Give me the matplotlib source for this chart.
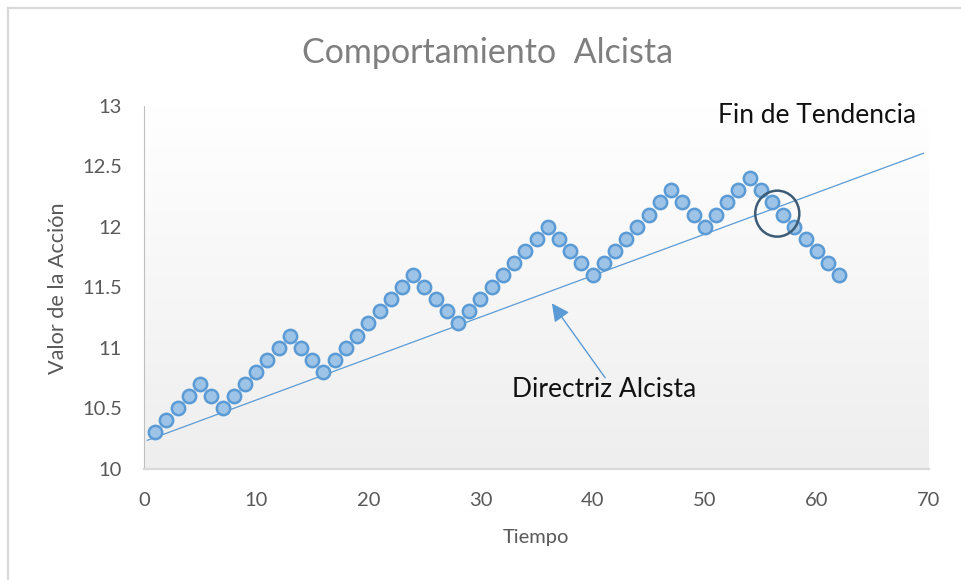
import numpy as np
import matplotlib
matplotlib.use("Agg")
import matplotlib.pyplot as plt
from matplotlib.colors import LinearSegmentedColormap
from matplotlib.patches import Ellipse
from matplotlib.lines import Line2D

plt.rcParams['font.family'] = ['Lato', 'DejaVu Sans']

# Series: share price over time
tiempo = list(range(1, 63))
valor = [10.3, 10.4, 10.5, 10.6, 10.7, 10.6, 10.5, 10.6, 10.7, 10.8,
         10.9, 11.0, 11.1, 11.0, 10.9, 10.8, 10.9, 11.0, 11.1, 11.2,
         11.3, 11.4, 11.5, 11.6, 11.5, 11.4, 11.3, 11.2, 11.3, 11.4,
         11.5, 11.6, 11.7, 11.8, 11.9, 12.0, 11.9, 11.8, 11.7, 11.6,
         11.7, 11.8, 11.9, 12.0, 12.1, 12.2, 12.3, 12.2, 12.1, 12.0,
         12.1, 12.2, 12.3, 12.4, 12.3, 12.2, 12.1, 12.0, 11.9, 11.8,
         11.7, 11.6]

# Uptrend support line end points
directriz_x = [0.3, 69.5]
directriz_y = [10.234, 12.606]

x_ticks = [0, 10, 20, 30, 40, 50, 60, 70]
y_ticks = [10, 10.5, 11, 11.5, 12, 12.5, 13]
y_tick_labels = ['10', '10.5', '11', '11.5', '12', '12.5', '13']

W, H = 961, 580
fig = plt.figure(figsize=(W / 100, H / 100), dpi=100)
fig.patch.set_facecolor('white')

ax = fig.add_axes([144 / W, 1 - 468.6 / H, 785 / W, 363 / H])

# Plot area gradient fill
grad = np.linspace(0, 1, 256)[:, None]
cmap = LinearSegmentedColormap.from_list('bg', ['#ffffff', '#eeeeee'])
ax.imshow(grad, extent=[0, 70, 10, 13], aspect='auto', cmap=cmap,
          origin='upper', zorder=0, interpolation='bicubic')
ax.set_xlim(0, 70)
ax.set_ylim(10, 13)

ax.plot(directriz_x, directriz_y, color='#5b9bd5', lw=0.9, zorder=2)
ax.plot(tiempo, valor, linestyle='none', marker='o', markersize=9.6,
        markerfacecolor='#9dc3e6', markeredgecolor='#5b9bd5',
        markeredgewidth=1.8, zorder=3)

# Highlight where the trend ends
ax.add_patch(Ellipse((56.47, 12.107), 3.93, 0.38, fill=False,
                     edgecolor='#3e5c76', lw=1.8, zorder=4))

ax.annotate('', xy=(36.37, 11.366), xytext=(41.12, 10.751),
            arrowprops=dict(arrowstyle='-|>,head_length=0.6,head_width=0.3',
                            color='#5b9bd5', lw=1.0, mutation_scale=18,
                            shrinkA=0, shrinkB=0), zorder=4)
ax.text(32.8, 10.592, 'Directriz Alcista', fontsize=19, color='#111111',
        ha='left', va='baseline', zorder=5)
ax.text(51.2, 12.854, 'Fin de Tendencia', fontsize=19, color='#111111',
        ha='left', va='baseline', clip_on=False, zorder=5)

ax.set_xticks(x_ticks)
ax.set_yticks(y_ticks)
ax.set_yticklabels(y_tick_labels)
ax.tick_params(axis='both', length=0, labelsize=14.5, labelcolor='#595959')
ax.tick_params(axis='y', pad=16)
ax.tick_params(axis='x', pad=17)

for s in ('top', 'right'):
    ax.spines[s].set_visible(False)
ax.spines['left'].set_color('#bfbfbf')
ax.spines['left'].set_linewidth(0.8)
ax.spines['bottom'].set_color('#d9d9d9')
ax.spines['bottom'].set_linewidth(1.6)

fig.text(488 / W, 1 - 63 / H, 'Comportamiento  Alcista', fontsize=24.5,
         color='#7f7f7f', ha='center', va='baseline')
fig.text(536 / W, 1 - 543 / H, 'Tiempo', fontsize=14.5, color='#595959',
         ha='center', va='baseline')
fig.text(58 / W, 1 - 288 / H, 'Valor de la Acción', fontsize=15.6,
         color='#595959', ha='center', va='center', rotation=90)

# Chart frame
fig.add_artist(Line2D([7.5 / W, 1], [1 - 7.5 / H, 1 - 7.5 / H],
                      transform=fig.transFigure, color='#d9d9d9', lw=1.6))
fig.add_artist(Line2D([7.5 / W, 7.5 / W], [0, 1 - 7.5 / H],
                      transform=fig.transFigure, color='#d9d9d9', lw=1.6))

fig.savefig('out.png', dpi=100)
